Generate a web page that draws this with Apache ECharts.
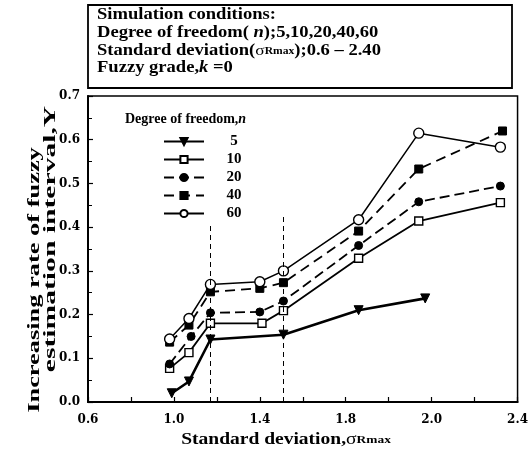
<!DOCTYPE html>
<html lang="en" style="height: 100%">

<head>
  <meta charset="utf-8">
</head>

<body style="height: 100%; margin: 0; background: #fff">
  <div id="container" style="height: 100%"></div>

  <script type="text/javascript" src="https://fastly.jsdelivr.net/npm/echarts@6/dist/echarts.min.js"></script>

  <script type="text/javascript">
    // degrees of freedom (legend entries)
    var nValues = ['5', '10', '20', '40', '60'];

    // x ticks: printed labels sit at equal spacing on the sheet
    var xTickValues = [0.6, 1.0, 1.4, 1.8, 2.2, 2.6];
    var xTickLabels = ['0.6', '1.0', '1.4', '1.8', '2.0', '2.4'];

    // standard deviation positions / increasing rate Y, per n
    var sigma5 = [0.99, 1.07, 1.17, 1.51, 1.86, 2.17];
    var rate5 = [0.020, 0.047, 0.143, 0.154, 0.210, 0.237];

    var sigma10 = [0.98, 1.07, 1.17, 1.41, 1.51, 1.86, 2.14, 2.52];
    var rate10 = [0.077, 0.113, 0.180, 0.180, 0.209, 0.329, 0.414, 0.456];

    var sigma20 = [0.98, 1.08, 1.17, 1.40, 1.51, 1.86, 2.14, 2.52];
    var rate20 = [0.087, 0.150, 0.204, 0.206, 0.231, 0.358, 0.458, 0.494];

    var sigma40 = [0.98, 1.07, 1.17, 1.40, 1.51, 1.86, 2.14, 2.53];
    var rate40 = [0.137, 0.176, 0.252, 0.260, 0.273, 0.391, 0.533, 0.620];

    var sigma60 = [0.98, 1.07, 1.17, 1.40, 1.51, 1.86, 2.14, 2.52];
    var rate60 = [0.144, 0.191, 0.269, 0.275, 0.300, 0.417, 0.615, 0.583];

    // vertical dashed guides
    var guideX = [1.17, 1.51];
    var guideTop = [0.41, 0.43];

    var FONT = '"Liberation Serif", "DejaVu Serif", serif';
    var WIDE = '"DejaVu Serif", serif';

    function pairs(xs, ys) {
      return xs.map(function (x, i) { return [x, ys[i]]; });
    }

    var dom = document.getElementById('container');
    var myChart = echarts.init(dom, null, { renderer: 'canvas' });

    var openStyle = { color: '#fff', borderColor: '#000', borderWidth: 1.4 };
    var fillStyle = { color: '#000', borderColor: '#000', borderWidth: 1 };

    var boxRich = {
      a: { fontFamily: FONT, fontWeight: 'bold', fontSize: 16, fill: '#000' },
      i: { fontFamily: FONT, fontWeight: 'bold', fontStyle: 'italic', fontSize: 16, fill: '#000' },
      s: { fontFamily: FONT, fontSize: 15, fill: '#000' },
      r: { fontFamily: FONT, fontWeight: 'bold', fontSize: 10, fill: '#000' }
    };

    var option = {
      animation: false,
      backgroundColor: '#fff',
      grid: {
        left: 88, right: 11, top: 96, bottom: 53,
        show: true, borderColor: '#000', borderWidth: 1.5
      },
      xAxis: {
        type: 'value',
        min: 0.6, max: 2.6, interval: 0.2,
        axisLine: { lineStyle: { color: '#000', width: 2 } },
        axisTick: { inside: true, length: 5, lineStyle: { color: '#000', width: 1.2 } },
        splitLine: { show: false },
        axisLabel: {
          color: '#000', fontFamily: WIDE, fontWeight: 'bold', fontSize: 12, margin: 12,
          formatter: function (v) {
            var i = xTickValues.findIndex(function (t) { return Math.abs(t - v) < 1e-6; });
            return i < 0 ? '' : xTickLabels[i];
          }
        }
      },
      yAxis: {
        type: 'value',
        min: 0, max: 0.7, interval: 0.1,
        axisLine: { lineStyle: { color: '#000', width: 2 } },
        axisTick: { inside: true, length: 5, lineStyle: { color: '#000', width: 1.2 } },
        minorTick: { show: true, splitNumber: 2, length: 4, lineStyle: { color: '#000', width: 1 } },
        splitLine: { show: false },
        axisLabel: {
          color: '#000', fontFamily: WIDE, fontWeight: 'bold', fontSize: 12, margin: 8,
          formatter: function (v) { return v.toFixed(1); }
        }
      },
      legend: {
        orient: 'vertical',
        left: 163, top: 134, padding: 0,
        itemWidth: 40, itemHeight: 9, itemGap: 3,
        data: nValues,
        formatter: function (name) { return '{c|' + name + '}'; },
        textStyle: {
          rich: {
            c: { width: 50, align: 'center', fontFamily: FONT, fontWeight: 'bold', fontSize: 15, lineHeight: 15, color: '#000' }
          }
        }
      },
      graphic: [
        {
          type: 'rect', shape: { x: 88, y: 5, width: 424, height: 83 },
          style: { fill: '#fff', stroke: '#000', lineWidth: 1.8 }
        },
        {
          type: 'text', x: 97, y: 15, scaleX: 1.16,
          style: { text: '{a|Simulation conditions:}', verticalAlign: 'middle', rich: boxRich }
        },
        {
          type: 'text', x: 97, y: 33, scaleX: 1.16,
          style: { text: '{a|Degree of freedom( }{i|n}{a|);5,10,20,40,60}', verticalAlign: 'middle', rich: boxRich }
        },
        {
          type: 'text', x: 97, y: 51, scaleX: 1.16,
          style: { text: '{a|Standard deviation(}{s|σ}{r|Rmax}{a|);0.6 – 2.40}', verticalAlign: 'middle', rich: boxRich }
        },
        {
          type: 'text', x: 97, y: 68, scaleX: 1.16,
          style: { text: '{a|Fuzzy grade,}{i|k}{a| =0}', verticalAlign: 'middle', rich: boxRich }
        },
        {
          type: 'text', x: 125, y: 119,
          style: {
            text: '{a|Degree of freedom,}{i|n}', verticalAlign: 'middle',
            rich: {
              a: { fontFamily: FONT, fontWeight: 'bold', fontSize: 14, fill: '#000' },
              i: { fontFamily: FONT, fontWeight: 'bold', fontStyle: 'italic', fontSize: 14, fill: '#000' }
            }
          }
        },
        {
          type: 'text', x: 35, y: 280, rotation: Math.PI / 2, scaleX: 1.65,
          style: { text: 'Increasing rate of fuzzy', font: 'bold 16px ' + FONT, fill: '#000', align: 'center', verticalAlign: 'middle' }
        },
        {
          type: 'text', x: 51, y: 239, rotation: Math.PI / 2, scaleX: 1.85,
          style: { text: 'estimation interval,Y', font: 'bold 16px ' + FONT, fill: '#000', align: 'center', verticalAlign: 'middle' }
        },
        {
          type: 'text', x: 286, y: 440, scaleX: 1.22,
          style: {
            text: '{a|Standard deviation,}{s|σ}{r|Rmax}', align: 'center', verticalAlign: 'middle',
            rich: {
              a: { fontFamily: FONT, fontWeight: 'bold', fontSize: 16, fill: '#000' },
              s: { fontFamily: FONT, fontSize: 16, fill: '#000' },
              r: { fontFamily: FONT, fontWeight: 'bold', fontSize: 11, fill: '#000' }
            }
          }
        }
      ],
      series: [
        {
          name: nValues[0], type: 'line', data: pairs(sigma5, rate5),
          symbol: 'triangle', symbolRotate: 180, symbolSize: 9,
          lineStyle: { color: '#000', width: 2.6 }, itemStyle: fillStyle,
          markLine: {
            silent: true, symbol: 'none', label: { show: false },
            lineStyle: { color: '#000', type: [5, 4], width: 1 },
            data: guideX.map(function (x, i) {
              return [{ coord: [x, 0] }, { coord: [x, guideTop[i]] }];
            })
          }
        },
        {
          name: nValues[1], type: 'line', data: pairs(sigma10, rate10),
          symbol: 'rect', symbolSize: 8,
          lineStyle: { color: '#000', width: 1.8 }, itemStyle: openStyle
        },
        {
          name: nValues[2], type: 'line', data: pairs(sigma20, rate20),
          symbol: 'circle', symbolSize: 8,
          lineStyle: { color: '#000', width: 1.8, type: [10, 5] }, itemStyle: fillStyle
        },
        {
          name: nValues[3], type: 'line', data: pairs(sigma40, rate40),
          symbol: 'rect', symbolSize: 8,
          lineStyle: { color: '#000', width: 1.8, type: [10, 6] }, itemStyle: fillStyle
        },
        {
          name: nValues[4], type: 'line', data: pairs(sigma60, rate60),
          symbol: 'circle', symbolSize: 10,
          lineStyle: { color: '#000', width: 1.5 }, itemStyle: openStyle
        }
      ]
    };

    myChart.setOption(option);
    window.addEventListener('resize', myChart.resize);
  </script>
</body>

</html>
